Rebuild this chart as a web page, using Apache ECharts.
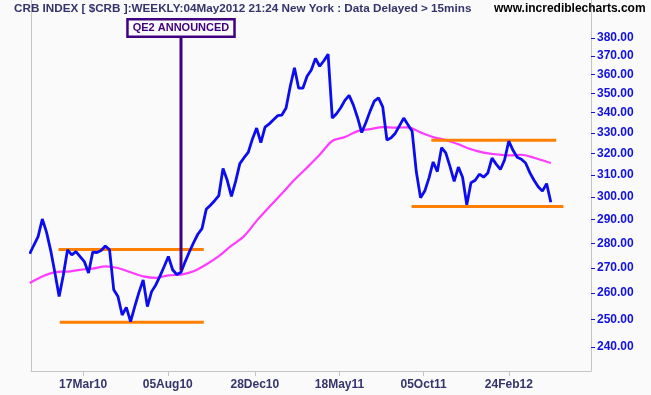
<!DOCTYPE html>
<html><head><meta charset="utf-8">
<script src="https://cdn.jsdelivr.net/npm/echarts@6/dist/echarts.min.js"></script>
<style>html,body{margin:0;padding:0;background:#fafafa}#c{width:651px;height:395px}</style>
</head><body><div id="c"></div>
<script>
// ---- text ----
const titleText = 'CRB INDEX [ $CRB ]:WEEKLY:04May2012 21:24 New York : Data Delayed > 15mins';
const siteText = 'www.incrediblecharts.com';

// ---- weekly closes (last week ends 04 May 2012) ----
const lastWeek = '2012-05-04';
const crbClose = [
  275.7, 279.3, 282.8, 290.3, 284.7, 277, 268, 258.7, 267, 277.3,
  275.2, 276.6, 274.5, 272.5, 267.9, 276.4, 276.2, 277, 278.9, 277.3,
  261.3, 258.7, 251.7, 254.6, 249.2, 254.9, 260.3, 265.2, 254.9, 260.6,
  263.2, 266.7, 270.5, 274.6, 269.2, 267.3, 268.2, 272.5, 276.5, 280.3,
  283.8, 286.2, 294.5, 296.3, 298.3, 300.6, 312.9, 307.5, 300.2, 307,
  315.2, 318, 320.5, 327, 332.3, 325.2, 332.8, 334.4, 336.4, 338.5,
  338.8, 342.4, 353.6, 363.5, 352.6, 352.6, 358.9, 362.3, 368.6, 364.3,
  367.3, 370.9, 337.3, 339.5, 342.5, 346.3, 348.9, 344, 337.6, 330.1,
  335.1, 340.8, 345.9, 347.6, 343, 326.5, 327.6, 329.8, 333.5, 337.3,
  334, 330.7, 311.3, 299.6, 302.6, 308.5, 316, 311.5, 322.8, 320.3,
  313.9, 307, 313.6, 308.9, 296.5, 306.4, 307.5, 310.3, 308.9, 310.8,
  317.8, 315, 312.5, 317, 326, 321.5, 318.2, 317.3, 315.5, 311,
  307.5, 304.6, 302.6, 306, 297.6
];

// ---- moving average, read at these week positions ----
const maWeekIndex = [0,3,6,9,12,15,18,21,24,27,30,33,36,39,42,45,48,51,54,57,60,63,66,69,72,75,78,81,84,87,90,93,96,99,102,105,108,111,114,117,120,123,124];
const maValues = [264, 266.5, 268.3, 268.5, 269.2, 269.7, 270.6, 269.9, 268.2, 266.6, 266, 267, 267.3, 268.6, 271.3, 274.7, 279, 283, 289.5, 295.5, 301.5, 307.7, 313.4, 319.4, 326, 327.9, 330.8, 331.8, 332.8, 332.5, 332.7, 330.2, 327.9, 326.5, 324.4, 322, 320.4, 319.6, 319.1, 319.4, 318, 316.1, 315.5];

// ---- support / resistance levels ----
const levelFrom  = ['2010-02-04', '2010-02-06', '2011-10-18', '2011-09-15'];
const levelTo    = ['2010-10-04', '2010-10-04', '2012-05-13', '2012-05-25'];
const levelValue = [277.4, 249.0, 326.3, 295.7];

// ---- annotation ----
const qe2Date = '2010-08-27';
const qe2Low = 268.9;
const qe2High = 380.8;
const qe2Text = 'QE2 ANNOUNCED';

// ---- axes ----
const yTickValues = [240, 250, 260, 270, 280, 290, 300, 310, 320, 330, 340, 350, 360, 370, 380];
const xTickDates = ['2010-03-17', '2010-08-05', '2010-12-28', '2011-05-18', '2011-10-05', '2012-02-24'];
const monthNames = ['Jan','Feb','Mar','Apr','May','Jun','Jul','Aug','Sep','Oct','Nov','Dec'];

const DAY = 86400000, WEEK = 7 * DAY;
const ts = s => { const [y, m, d] = s.split('-').map(Number); return Date.UTC(y, m - 1, d); };
const lastTs = ts(lastWeek);
const weekDates = crbClose.map((_, i) => lastTs - (crbClose.length - 1 - i) * WEEK);
const L = v => Math.log10(v);

const fmtDate = t => {
  const d = new Date(Math.round(t / DAY) * DAY);
  const dd = String(d.getUTCDate()).padStart(2, '0');
  const yy = String(d.getUTCFullYear() % 100).padStart(2, '0');
  return dd + monthNames[d.getUTCMonth()] + yy;
};

const FONT = '"Liberation Sans", Arial, sans-serif';
const chart = echarts.init(document.getElementById('c'), null, { renderer: 'canvas' });

const series = [];
series.push({
  name: 'MA', type: 'line', yAxisIndex: 0, showSymbol: false, smooth: 0.3,
  lineStyle: { color: '#ff3cff', width: 2.2 }, z: 2,
  data: maValues.map((v, k) => [weekDates[maWeekIndex[k]], L(v)])
});
levelValue.forEach((v, k) => {
  series.push({
    type: 'line', yAxisIndex: 0, showSymbol: false, z: 3,
    lineStyle: { color: '#ff8000', width: 3 },
    data: [[ts(levelFrom[k]), L(v)], [ts(levelTo[k]), L(v)]]
  });
});
series.push({
  name: 'CRB', type: 'line', yAxisIndex: 0, showSymbol: false, z: 4,
  lineStyle: { color: '#0c0cf0', width: 2.8 },
  data: crbClose.map((v, i) => [weekDates[i], L(v)])
});
series.push({
  type: 'line', yAxisIndex: 0, z: 5, showSymbol: true, symbol: 'rect', symbolSize: 0.1,
  lineStyle: { color: '#400080', width: 3 },
  itemStyle: { color: '#400080' },
  label: { show: false },
  data: [
    [ts(qe2Date), L(qe2Low)],
    { value: [ts(qe2Date), L(qe2High)], label: {
      show: true, position: 'top', distance: 1, formatter: qe2Text,
      color: '#400080', fontFamily: FONT, fontWeight: 'bold', fontSize: 11, lineHeight: 12,
      backgroundColor: '#fafafa', borderColor: '#400080', borderWidth: 2.5, padding: [2, 4, 1, 4]
    } }
  ]
});

chart.setOption({
  animation: false,
  backgroundColor: '#fafafa',
  grid: { left: 31, right: 60, top: 0, bottom: 24, containLabel: false },
  xAxis: {
    type: 'value', min: Date.UTC(2009, 11, 20, 4), max: Date.UTC(2012, 6, 9, 22),
    axisLine: { show: true, lineStyle: { color: '#c4c4c4', width: 1 } },
    axisTick: { show: true, length: 5, lineStyle: { color: '#c4c4c4' }, customValues: xTickDates.map(ts) },
    axisLabel: { customValues: xTickDates.map(ts), formatter: v => fmtDate(v), margin: 8,
      color: '#34346c', fontFamily: FONT, fontWeight: 'bold', fontSize: 12 },
    splitLine: { show: false }
  },
  yAxis: [{
    type: 'value', position: 'right', min: L(231.6), max: L(402),
    axisLine: { show: true, lineStyle: { color: '#c4c4c4', width: 1 } },
    axisTick: { show: true, length: 4, lineStyle: { color: '#1010e0' }, customValues: yTickValues.map(L) },
    axisLabel: { customValues: yTickValues.map(L), formatter: v => Math.pow(10, v).toFixed(2), margin: 6,
      padding: [4, 0, 0, 0],
      color: '#1010e0', fontFamily: FONT, fontWeight: 'bold', fontSize: 12 },
    splitLine: { show: false }
  }, {
    type: 'value', position: 'left', min: L(231.6), max: L(402),
    axisLine: { show: true, lineStyle: { color: '#c4c4c4', width: 1 } },
    axisTick: { show: false }, axisLabel: { show: false }, splitLine: { show: false }
  }],
  graphic: [
    { type: 'text', x: 14, y: 3, z: 10, style: { text: titleText, font: 'bold 11.7px ' + FONT, fill: '#34346c', textVerticalAlign: 'top' } },
    { type: 'text', x: 494, y: 3, z: 10, style: { text: siteText, font: 'bold 12px ' + FONT, fill: '#000000', textVerticalAlign: 'top' } }
  ],
  series: series
});
</script></body></html>
